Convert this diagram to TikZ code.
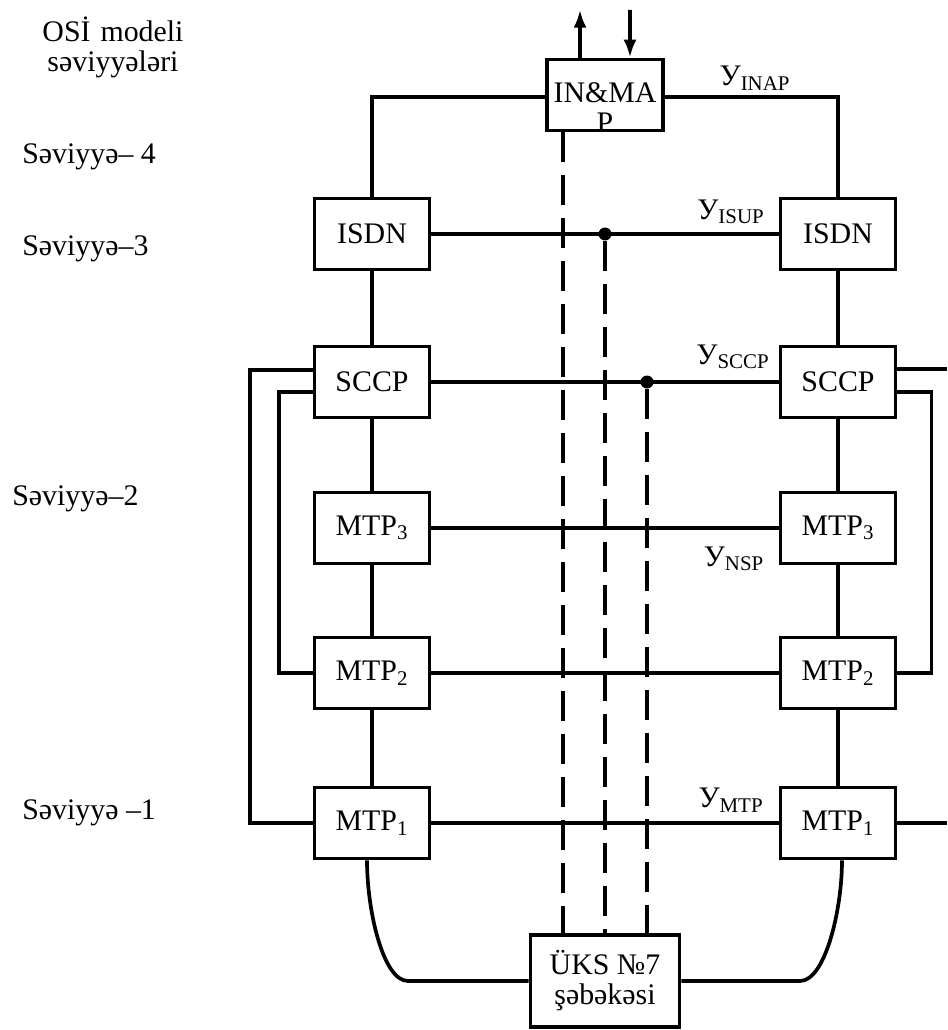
\documentclass[tikz,border=0pt]{standalone}
\usepackage{fontspec}
\setmainfont{Liberation Serif}
\usetikzlibrary{arrows.meta,calc}

\begin{document}
\begin{tikzpicture}[x=0.02cm,y=-0.02cm,
  lbl/.style={font=\fontsize{17}{20}\selectfont, inner sep=0pt},
  box/.style={draw, line width=2.1pt, minimum width=2.3cm, minimum height=1.42cm,
              inner sep=0pt, font=\fontsize{17}{20}\selectfont, align=center},
  wire/.style={line width=2.1pt},
  sigline/.style={line width=2.1pt, dash pattern=on 0.6cm off 0.26cm},
  junction/.style={circle, fill, minimum size=0.26cm, inner sep=0pt},
  tip/.style={-{Latex[length=0.36cm,width=0.26cm]}}
]
\useasboundingbox (0,0) rectangle (947,1030);

% level captions on the left
\node[lbl, align=center, text width=4cm] (osi) at (113,47) {OSİ modeli\\[-3pt]səviyyələri};
\node[lbl, anchor=west] (lev4) at (22,157) {Səviyyə– 4};
\node[lbl, anchor=west] (lev3) at (22,249) {Səviyyə–3};
\node[lbl, anchor=west] (lev2) at (12,499) {Səviyyə–2};
\node[lbl, anchor=west] (lev1) at (22,813) {Səviyyə –1};

% application part
\node[box, minimum width=2.33cm] (inmap) at (605,95) {};
\node[lbl, align=center] (inmaptxt) at (605,108) {IN\&MA\\[-3pt]P};

% protocol stacks
\node[box] (isdnL) at (372,234) {ISDN};
\node[box] (isdnR) at (838,234) {ISDN};
\node[box] (sccpL) at (372,382) {SCCP};
\node[box] (sccpR) at (838,382) {SCCP};
\node[box] (mtp3L) at (372,528) {MTP\textsubscript{3}};
\node[box] (mtp3R) at (838,528) {MTP\textsubscript{3}};
\node[box] (mtp2L) at (372,673) {MTP\textsubscript{2}};
\node[box] (mtp2R) at (838,673) {MTP\textsubscript{2}};
\node[box] (mtp1L) at (372,823) {MTP\textsubscript{1}};
\node[box] (mtp1R) at (838,823) {MTP\textsubscript{1}};

% signalling network
\node[box, minimum width=2.98cm, minimum height=1.84cm] (uks) at (605,981) {ÜKS №7\\[-3pt]şəbəkəsi};

% helper points
\coordinate (rim) at (947,0);
\coordinate (inTop) at (630,10);
\coordinate (lbend) at (408,981);
\coordinate (rbend) at (800,981);

% interface labels
\node[lbl] (yinap) at (755,78) {У\textsubscript{INAP}};
\node[lbl] (yisup) at (731,212) {У\textsubscript{ISUP}};
\node[lbl] (ysccp) at (733,357) {У\textsubscript{SCCP}};
\node[lbl] (ynsp)  at (734,559) {У\textsubscript{NSP}};
\node[lbl] (ymtp)  at (731,800) {У\textsubscript{MTP}};

% external arrows
\draw[wire, tip] ([xshift=-0.5cm]inmap.north) -- ++(0,-48);
\draw[wire, tip] (inTop) -- ([xshift=0.5cm]inmap.north);

% top connection
\draw[wire] ([yshift=-0.04cm]inmap.west) -| (isdnL.north);
\draw[wire] ([yshift=-0.04cm]inmap.east) -| (isdnR.north);

% vertical stack links
\foreach \s in {L,R}{
  \draw[wire] (isdn\s.south) -- (sccp\s.north);
  \draw[wire] (sccp\s.south) -- (mtp3\s.north);
  \draw[wire] (mtp3\s.south) -- (mtp2\s.north);
  \draw[wire] (mtp2\s.south) -- (mtp1\s.north);
}

% peer-to-peer links
\draw[wire] (isdnL.east) -- (isdnR.west);
\draw[wire] (sccpL.east) -- (sccpR.west);
\draw[wire] (mtp3L.east) -- (mtp3R.west);
\draw[wire] (mtp2L.east) -- (mtp2R.west);
\draw[wire] (mtp1L.east) -- (mtp1R.west);

% junctions
\node[junction] (disup) at (605,234) {};
\node[junction] (dsccp) at (647,382) {};

% side loops
\draw[wire] ([yshift=0.24cm]sccpL.west) -- ++(-63,0) |- (mtp1L.west);
\draw[wire] ([yshift=-0.2cm]sccpL.west) -- ++(-34,0) |- (mtp2L.west);
\draw[wire] ([yshift=-0.2cm]sccpR.east) -- ++(34,0) |- (mtp2R.east);
\draw[wire] ([yshift=0.26cm]sccpR.east) -- ([yshift=0.26cm]sccpR.east -| rim);
\draw[wire] (mtp1R.east) -- (mtp1R.east -| rim);

% signalling paths down to the network
\draw[sigline] ([xshift=-0.84cm]inmap.south) -- ([xshift=-0.84cm]uks.north);
\draw[sigline] (disup) -- (disup |- uks.north);
\draw[sigline] (dsccp) -- (dsccp |- uks.north);

% physical links from MTP1
\draw[wire] ([xshift=-0.1cm]mtp1L.south) .. controls +(0,50) and +(-25,0) .. (lbend) -- (uks.west);
\draw[wire] ([xshift=0.08cm]mtp1R.south) .. controls +(0,50) and +(25,0) .. (rbend) -- (uks.east);
\end{tikzpicture}
\end{document}
